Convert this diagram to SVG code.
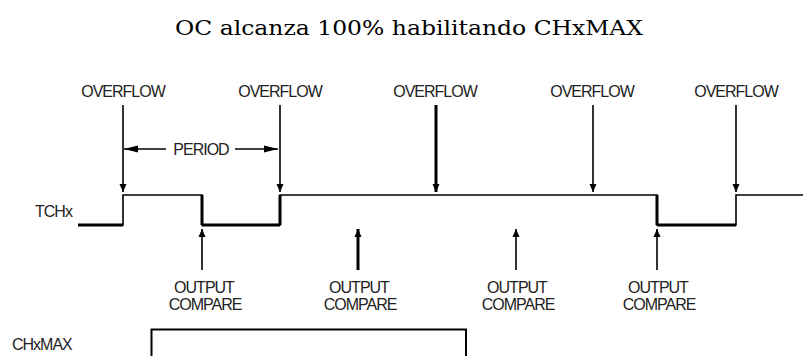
<svg xmlns="http://www.w3.org/2000/svg" width="803" height="356" viewBox="0 0 803 356">
<style>
.title{font-family:"DejaVu Serif","Liberation Serif",serif;font-size:20px;fill:#000}
.lbl{font-family:"Liberation Sans",Arial,sans-serif;font-size:16px;letter-spacing:-1px;fill:#222}
.thin{stroke:#000;stroke-width:1.6;fill:none}
.thick{stroke:#000;stroke-width:3;fill:none}
</style>
<defs>
<marker id="ah" viewBox="0 0 8 16" refX="8" refY="8" markerWidth="8" markerHeight="16" markerUnits="userSpaceOnUse" orient="auto">
<path d="M0,4.5 L8,8 L0,11.5 Z" fill="#000"/>
</marker>
<marker id="ahs" viewBox="0 0 14 8" refX="14" refY="4" markerWidth="14" markerHeight="8" markerUnits="userSpaceOnUse" orient="auto">
<path d="M0,0.5 L14,4 L0,7.5 Z" fill="#000"/>
</marker>
</defs>
<rect width="803" height="356" fill="#fff"/>
<text class="title" x="175" y="35" textLength="468" lengthAdjust="spacingAndGlyphs">OC alcanza 100% habilitando CHxMAX</text>

<g id="signal-tchx">
<text class="lbl" x="35" y="217">TCHx</text>
<polyline class="thin" points="78,225 123,225 123,195 202,195 202,225 280,225 280,195 657,195 657,225 736,225 736,195 803,195"/>
<path class="thick" d="M78,225 H123 M202,225 H280 M657,225 H736 M280,225 V195 M202,195 V225 M657,195 V225"/>
</g>

<g id="signal-chxmax">
<text class="lbl" x="12" y="350">CHxMAX</text>
<path d="M151.5,358 V329.5 H466 V358" stroke="#000" stroke-width="2" fill="none"/>
</g>

<g id="overflow-labels">
<text class="lbl" x="123" y="97" text-anchor="middle">OVERFLOW</text>
<text class="lbl" x="280" y="97" text-anchor="middle">OVERFLOW</text>
<text class="lbl" x="435" y="97" text-anchor="middle">OVERFLOW</text>
<text class="lbl" x="592" y="97" text-anchor="middle">OVERFLOW</text>
<text class="lbl" x="736" y="97" text-anchor="middle">OVERFLOW</text>
</g>

<g id="period">
<text class="lbl" x="201" y="155" text-anchor="middle">PERIOD</text>
</g>

<g id="oc-labels">
<text class="lbl" x="204" y="293" text-anchor="middle">OUTPUT</text>
<text class="lbl" x="205" y="310" text-anchor="middle">COMPARE</text>
<text class="lbl" x="359" y="293" text-anchor="middle">OUTPUT</text>
<text class="lbl" x="360" y="310" text-anchor="middle">COMPARE</text>
<text class="lbl" x="517" y="293" text-anchor="middle">OUTPUT</text>
<text class="lbl" x="518" y="310" text-anchor="middle">COMPARE</text>
<text class="lbl" x="658" y="293" text-anchor="middle">OUTPUT</text>
<text class="lbl" x="659" y="310" text-anchor="middle">COMPARE</text>
</g>

<g id="connectors">
<line class="thin" x1="123" y1="105" x2="123" y2="192" marker-end="url(#ah)"/>
<line class="thin" x1="280" y1="105" x2="280" y2="192" marker-end="url(#ah)"/>
<line class="thick" x1="436" y1="105" x2="436" y2="192" marker-end="url(#ah)"/>
<line class="thin" x1="593" y1="105" x2="593" y2="192" marker-end="url(#ah)"/>
<line class="thin" x1="736" y1="105" x2="736" y2="192" marker-end="url(#ah)"/>
<line class="thin" x1="166" y1="149" x2="124" y2="149" marker-end="url(#ahs)"/>
<line class="thin" x1="235" y1="149" x2="278" y2="149" marker-end="url(#ahs)"/>
<line class="thin" x1="202" y1="270" x2="202" y2="229" marker-end="url(#ah)"/>
<line class="thick" x1="358" y1="270" x2="358" y2="229" marker-end="url(#ah)"/>
<line class="thin" x1="516" y1="270" x2="516" y2="229" marker-end="url(#ah)"/>
<line class="thin" x1="657" y1="270" x2="657" y2="229" marker-end="url(#ah)"/>
</g>
</svg>
